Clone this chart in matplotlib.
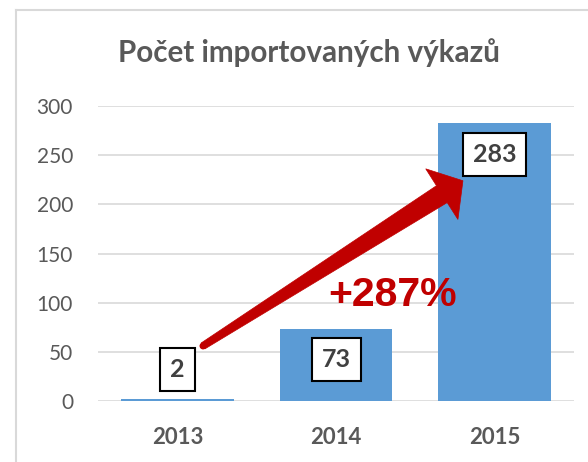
import numpy as np
import matplotlib.pyplot as plt
from matplotlib.lines import Line2D
from matplotlib.patches import Polygon, Circle
from matplotlib.transforms import IdentityTransform

years = ["2013", "2014", "2015"]
counts = [2, 73, 283]
# label box offset from bar top (points), manual placement as in the original
label_offsets = [21, -22, -23]
growth_text = "+287%"

BAR_COLOR = "#5B9BD5"
GRID_COLOR = "#D9D9D9"
TEXT_GRAY = "#595959"
RED = "#C00000"

fig = plt.figure(figsize=(5.88, 4.62), dpi=100)
ax = fig.add_axes([98 / 588, 1 - 401 / 462, 476 / 588, 295 / 462])

x = list(range(len(years)))
ax.bar(x, counts, width=0.71, color=BAR_COLOR, zorder=2)

ax.set_xlim(-0.5, 2.5)
ax.set_ylim(0, 300)
ax.set_yticks(range(0, 301, 50))
ax.set_xticks(x)
ax.set_xticklabels(years)
ax.grid(axis="y", color=GRID_COLOR, linewidth=1.2, zorder=0)
ax.set_axisbelow(True)
for s in ax.spines.values():
    s.set_visible(False)
ax.tick_params(axis="both", length=0)
ax.tick_params(axis="y", pad=18, labelsize=15, labelcolor=TEXT_GRAY)
ax.tick_params(axis="x", pad=19, labelsize=16, labelcolor=TEXT_GRAY)
for lab in ax.get_yticklabels():
    lab.set_fontfamily("Lato")
for lab in ax.get_xticklabels():
    lab.set_fontfamily("Lato")
    lab.set_fontweight("bold")

# value labels in boxes
for xi, v, off in zip(x, counts, label_offsets):
    ax.annotate(str(v), xy=(xi, v), xytext=(0, off), textcoords="offset points",
                ha="center", va="center", fontsize=18, fontweight="bold",
                family="Lato", color="#404040", zorder=5,
                bbox=dict(boxstyle="square,pad=0.4", fc="white", ec="black", lw=1.5))

# growth arrow: tapered shaft + triangular head, built in pixel space
tail = ax.transData.transform((0.162, 56))
tip = ax.transData.transform((1.80, 224))
u = (tip - tail) / np.linalg.norm(tip - tail)
n = np.array([-u[1], u[0]])
head_len, head_hw, w0, w1 = 25, 30, 3.5, 10
base = tip - head_len * u
pts = [tail + w0 * n, base + w1 * n, base + head_hw * n, tip,
       base - head_hw * n, base - w1 * n, tail - w0 * n]
fig.add_artist(Polygon(pts, closed=True, fc=RED, ec=RED, lw=0.5,
                       transform=IdentityTransform(), zorder=4))
fig.add_artist(Circle(tail, w0, fc=RED, ec="none", transform=IdentityTransform(), zorder=4))

ax.text(1.357, 108, growth_text, ha="center", va="center", fontsize=29.5,
        fontweight="bold", family="Liberation Sans", color=RED, zorder=6)

fig.text(309 / 588, 1 - 53 / 462, "Počet importovaných výkazů", ha="center", va="center",
         fontsize=21.3, fontweight="bold", family="Lato", color=TEXT_GRAY)

# chart area border (cropped)
fig.add_artist(Line2D([15.5 / 588, 15.5 / 588], [0, 1 - 10 / 462], color=GRID_COLOR, lw=1.5))
fig.add_artist(Line2D([15.5 / 588, 1], [1 - 10 / 462, 1 - 10 / 462], color=GRID_COLOR, lw=1.5))

fig.savefig("out.png", dpi=100)
